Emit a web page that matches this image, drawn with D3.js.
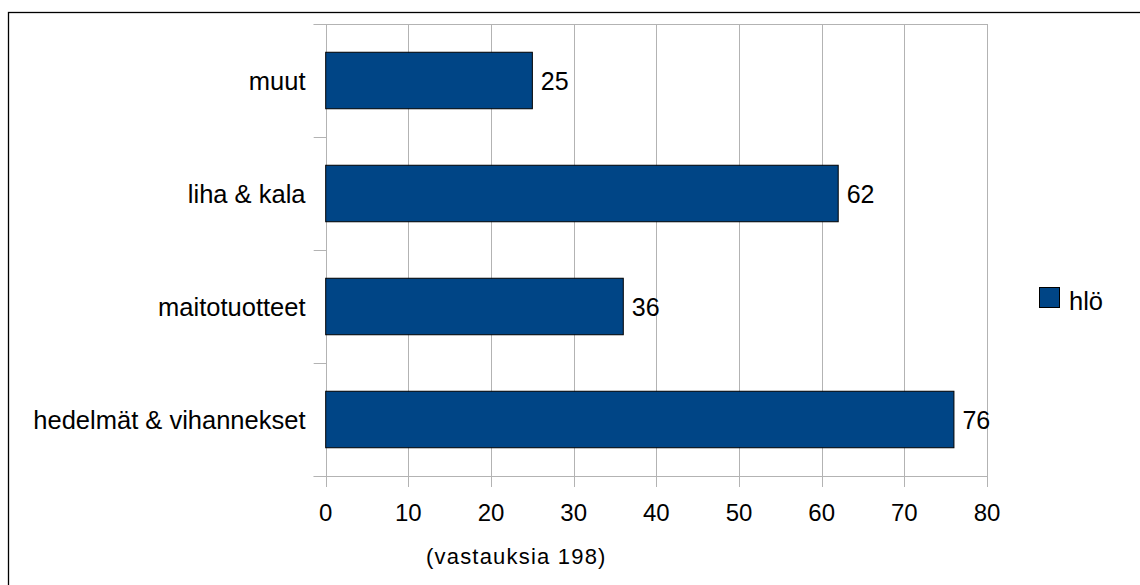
<!DOCTYPE html>
<html>
<head>
<meta charset="utf-8">
<script src="https://cdn.jsdelivr.net/npm/d3@7"></script>
<style>
  html, body { margin: 0; padding: 0; background: #fff; }
  svg { display: block; font-family: "Liberation Sans", Arial, sans-serif; }
</style>
</head>
<body>
<svg id="chart" width="1140" height="585"></svg>
<script>
const categories = ["muut", "liha & kala", "maitotuotteet", "hedelmät & vihannekset"];
const values = [25, 62, 36, 76];
const xTicks = [0, 10, 20, 30, 40, 50, 60, 70, 80];
const seriesName = "hlö";
const subtitle = "(vastauksia 198)";

const svg = d3.select("#chart");
const W = 1140, H = 585;
const plot = { left: 325.7, right: 987, top: 24, bottom: 476 };
const gridColor = "#b3b3b3";
const barColor = "#004586";

// outer frame (left and top visible; extends beyond right/bottom)
svg.append("rect")
  .attr("x", 8.5).attr("y", 12.5)
  .attr("width", W).attr("height", H)
  .attr("fill", "none").attr("stroke", "#000").attr("stroke-width", 1.3);

const x = d3.scaleLinear().domain([0, 80]).range([plot.left, plot.right]);
const y = d3.scaleBand().domain(categories).range([plot.top, plot.bottom])
  .paddingInner(0.5).paddingOuter(0.25);

// vertical gridlines (extend below axis as ticks)
svg.append("g").selectAll("line").data(xTicks).join("line")
  .attr("x1", d => Math.round(x(d)) + 0.5).attr("x2", d => Math.round(x(d)) + 0.5)
  .attr("y1", plot.top).attr("y2", plot.bottom + 11)
  .attr("stroke", gridColor).attr("stroke-width", 1);

// top and bottom horizontal lines
[plot.top, plot.bottom].forEach(v => {
  svg.append("line")
    .attr("x1", plot.left - 12).attr("x2", Math.round(plot.right) + 0.5)
    .attr("y1", Math.round(v) + 0.5).attr("y2", Math.round(v) + 0.5)
    .attr("stroke", gridColor).attr("stroke-width", 1);
});

// category boundary ticks
const step = y.step();
const boundaries = d3.range(categories.length + 1).map(i => plot.top + i * (plot.bottom - plot.top) / categories.length);
svg.append("g").selectAll("line").data(boundaries).join("line")
  .attr("x1", plot.left - 12).attr("x2", Math.round(plot.left) + 0.5)
  .attr("y1", d => Math.round(d) + 0.5).attr("y2", d => Math.round(d) + 0.5)
  .attr("stroke", gridColor).attr("stroke-width", 1);

// bars
const data = categories.map((c, i) => ({ c, v: values[i] }));
svg.append("g").selectAll("rect").data(data).join("rect")
  .attr("x", x(0)).attr("y", d => y(d.c))
  .attr("width", d => x(d.v) - x(0)).attr("height", y.bandwidth())
  .attr("fill", barColor).attr("stroke", "#000").attr("stroke-width", 1);

// value labels
svg.append("g").selectAll("text").data(data).join("text")
  .attr("x", d => x(d.v) + 8.5)
  .attr("y", d => y(d.c) + y.bandwidth() / 2 + 9)
  .attr("font-size", 25).attr("fill", "#000")
  .text(d => d.v);

// category labels
svg.append("g").selectAll("text").data(categories).join("text")
  .attr("x", 305.5)
  .attr("y", d => y(d) + y.bandwidth() / 2 + 9)
  .attr("text-anchor", "end")
  .attr("font-size", 25.5).attr("fill", "#000")
  .text(d => d);

// x tick labels
svg.append("g").selectAll("text").data(xTicks).join("text")
  .attr("x", d => x(d))
  .attr("y", 520.5)
  .attr("text-anchor", "middle")
  .attr("font-size", 24).attr("fill", "#000")
  .text(d => d);

// subtitle
svg.append("text")
  .attr("x", 426).attr("y", 564)
  .attr("font-size", 22).attr("letter-spacing", 1.2).attr("fill", "#000")
  .text(subtitle);

// legend
svg.append("rect")
  .attr("x", 1039.5).attr("y", 287.5).attr("width", 20).attr("height", 20)
  .attr("fill", barColor).attr("stroke", "#000").attr("stroke-width", 1);
svg.append("text")
  .attr("x", 1069).attr("y", 310)
  .attr("font-size", 25.5).attr("fill", "#000")
  .text(seriesName);
</script>
</body>
</html>
